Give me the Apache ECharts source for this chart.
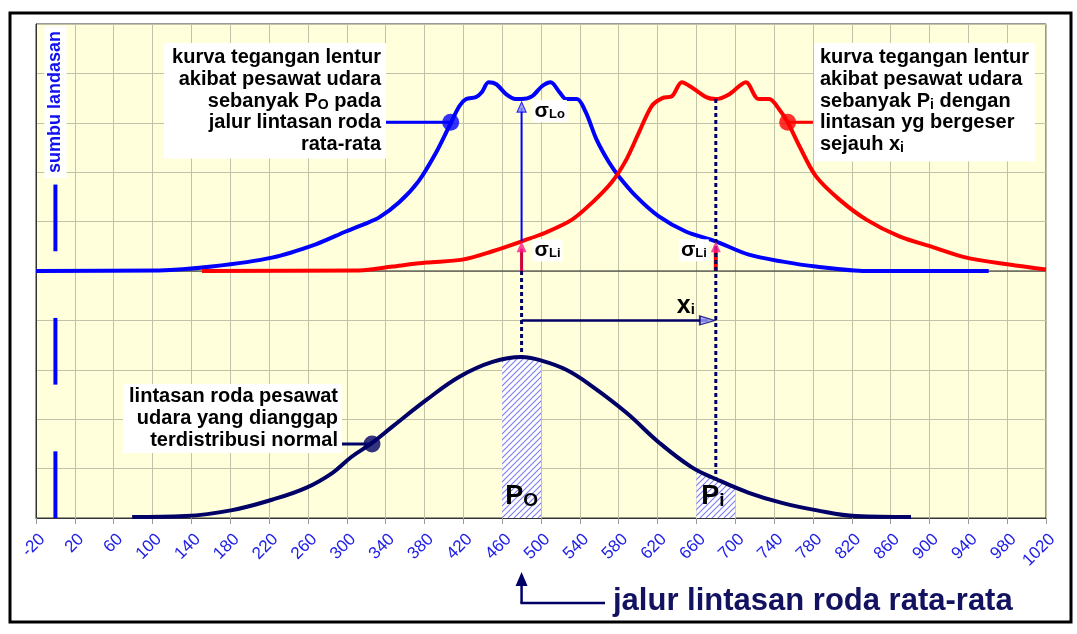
<!DOCTYPE html>
<html><head><meta charset="utf-8">
<script src="https://cdn.jsdelivr.net/npm/echarts@6/dist/echarts.min.js"></script>
<style>html,body{margin:0;padding:0;background:#fff}#c{width:1077px;height:634px}</style>
</head><body><div id="c"></div><script>
// ---------- data ----------
const xTickStart = -20, xTickEnd = 1020, xTickStep = 40;
const yMin = 0, yMax = 10, yStep = 1;
const stressBaseline = 5;
const meanPath = 480;      // jalur lintasan roda rata-rata
const shiftedPath = 680;   // mean + x_i
const runwayX = 0;         // sumbu landasan

const bluePo = [[-20,5.0],[107,5.01],[161,5.09],[223,5.27],[268,5.54],[299,5.80],[318,5.95],[333,6.08],[354,6.39],[374,6.82],[392,7.40],[405,7.91],[416,8.34],[423,8.48],[433,8.52],[439,8.62],[446,8.82],[454,8.78],[464,8.58],[474,8.48],[480,8.48],[491,8.54],[501,8.74],[510,8.82],[519,8.62],[526,8.48],[537,8.48],[546,8.22],[557,7.67],[570,7.20],[580,6.92],[598,6.51],[621,6.11],[649,5.80],[680,5.6],[714,5.33],[749,5.19],[783,5.09],[835,5.0],[961,5.0]];
const redPi = [[151,5.0],[313,5.01],[347,5.09],[382,5.17],[419,5.23],[450,5.40],[480,5.60],[505,5.78],[532,6.04],[553,6.39],[573,6.80],[588,7.26],[601,7.81],[614,8.34],[625,8.50],[635,8.54],[645,8.82],[655,8.72],[670,8.52],[680,8.48],[694,8.58],[711,8.82],[724,8.48],[735,8.48],[745,8.28],[754,8.01],[766,7.53],[783,6.92],[807,6.45],[835,6.04],[869,5.70],[904,5.48],[938,5.27],[982,5.13],[1020,5.03]];
const normalDist = [[79,0.02],[134,0.04],[182,0.16],[223,0.37],[258,0.61],[285,0.91],[305,1.24],[326,1.52],[347,1.85],[382,2.39],[416,2.86],[450,3.16],[480,3.26],[498,3.20],[526,3.00],[553,2.66],[588,2.13],[622,1.52],[655,1.03],[680,0.79],[714,0.51],[749,0.30],[783,0.16],[824,0.04],[881,0.02]];
const hatchPo = [[460,3.21],[470,3.24],[480,3.26],[490,3.24],[500,3.19]];
const hatchPi = [[660,0.98],[670,0.88],[680,0.79],[690,0.71],[700,0.64]];
const runwayDashes = [[0,1.35],[2.7,4.05],[5.4,6.75]];
const dotBlue = [407,8.01], dotRed = [754,8.01], dotNavy = [326,1.5];
const connBlue = [[340,8.01],[407,8.01]], connRed = [[754,8.01],[780,8.01]], connNavy = [[295,1.5],[326,1.5]];
const dottedLeft = [[480,5.0],[480,3.26]];
const dottedRight = [[680,8.48],[680,0.79]];
const sigmaLoLine = [[480,5.6],[480,8.3]];
const sigmaLiLeftLine = [[480,5.0],[480,5.45]];
const sigmaLiRightLine = [[680,5.0],[680,5.45]];
const xiLine = [[480,4.0],[672,4.0]];
const tipSigmaLo = [480,8.42], tipSigmaLiL = [480,5.6], tipSigmaLiR = [680,5.6], tipXi = [679,4.0];

// ---------- style ----------
const FONT = '"Liberation Sans", Arial, sans-serif';
const BLUE = '#0000FF', RED = '#FF0000', NAVY = '#000066';

function hatchPattern(){
  const c = document.createElement('canvas'); c.width = 6; c.height = 6;
  const g = c.getContext('2d');
  g.fillStyle = '#FFFFFF'; g.fillRect(0,0,6,6);
  g.strokeStyle = '#7C7CF2'; g.lineWidth = 1.1;
  g.beginPath(); g.moveTo(-1,7); g.lineTo(7,-1); g.moveTo(-1,1); g.lineTo(1,-1); g.moveTo(5,7); g.lineTo(7,5); g.stroke();
  return c;
}
const hatch = hatchPattern();

function seg(data, color, width, type, z){
  return {type:'line', data, xAxisIndex:0, yAxisIndex:0, symbol:'none', silent:true, z:z||4,
    lineStyle:{color, width, type:type||'solid', cap:'butt'}};
}
function curve(data, color, smooth, z){
  return {type:'line', data, xAxisIndex:0, yAxisIndex:0, symbol:'none', silent:true, z:z||3, smooth,
    lineStyle:{color, width:4, join:'round'}};
}
function hatchArea(data){
  return {type:'line', data, xAxisIndex:0, yAxisIndex:0, symbol:'none', silent:true, z:1,
    lineStyle:{width:0}, areaStyle:{color:{image:hatch, repeat:'repeat'}, opacity:1}};
}

const chart = echarts.init(document.getElementById('c'), null, {renderer:'canvas', width:1077, height:634});

const option = {
  animation:false,
  backgroundColor:'#ffffff',
  grid:{left:36, top:24, right:31, bottom:116, show:true, backgroundColor:'#FFFFDC', borderColor:'#333', borderWidth:1},
  xAxis:[
    {type:'value', min:xTickStart, max:xTickEnd, show:false},
    {type:'value', min:0, max:xTickEnd - xTickStart, interval:xTickStep, position:'bottom',
      axisLine:{onZero:false, lineStyle:{color:'#333', width:1}},
      axisTick:{show:true, length:6, lineStyle:{color:'#999'}},
      splitLine:{show:true, lineStyle:{color:'#C2C2A8', width:1}},
      axisLabel:{rotate:45, margin:25, interval:0, padding:[0,-9,0,0], color:'#2020E8', fontFamily:FONT, fontSize:17,
        formatter:v => String(v + xTickStart)}}
  ],
  yAxis:{type:'value', min:yMin, max:yMax, interval:yStep,
    axisLine:{show:true, onZero:false, lineStyle:{color:'#333'}}, axisTick:{show:false}, axisLabel:{show:false},
    splitLine:{show:true, lineStyle:{color:'#C2C2A8', width:1}}},
  series:[
    hatchArea(hatchPo),
    hatchArea(hatchPi),
    seg([[xTickStart,stressBaseline],[xTickEnd,stressBaseline]], '#222', 1, 'solid', 2),
    ...runwayDashes.map(d => seg([[runwayX,d[0]],[runwayX,d[1]]], BLUE, 4, 'solid', 3)),
    curve(normalDist, NAVY, 0.4, 3),
    curve(bluePo, BLUE, 0.3, 3),
    curve(redPi, RED, 0.3, 3),
    seg(connBlue, BLUE, 3, 'solid', 4),
    seg(connRed, RED, 3, 'solid', 4),
    seg(connNavy, NAVY, 3, 'solid', 4),
    seg(sigmaLoLine, BLUE, 2, 'solid', 5),
    seg(sigmaLiLeftLine, '#D0003A', 3, 'solid', 5),
    seg(sigmaLiRightLine, RED, 4, 'solid', 5),
    seg(xiLine, NAVY, 2.5, 'solid', 5),
    seg(dottedLeft, NAVY, 3, [4,3], 6),
    seg(dottedRight, NAVY, 3, [4,3], 6),
    {type:'scatter', xAxisIndex:0, yAxisIndex:0, silent:true, z:7, symbol:'circle', symbolSize:17,
      data:[{value:dotBlue, itemStyle:{color:BLUE}}, {value:dotRed, itemStyle:{color:RED}}, {value:dotNavy, itemStyle:{color:NAVY}}]},
    {type:'scatter', xAxisIndex:0, yAxisIndex:0, silent:true, z:8, symbol:'triangle',
      data:[
        {value:tipSigmaLo, symbolSize:[9,10], symbolOffset:[0,5], itemStyle:{color:'#8C8CFF', borderColor:BLUE, borderWidth:1.2}},
        {value:tipSigmaLiL, symbolSize:[10,11], symbolOffset:[0,5.5], itemStyle:{color:'#FF1A8C'}},
        {value:tipSigmaLiR, symbolSize:[10,11], symbolOffset:[0,5.5], itemStyle:{color:'#FF1A8C'}},
        {value:tipXi, symbolSize:[9,15], symbolRotate:-90, symbolOffset:[-7.5,0], itemStyle:{color:'#9A9AFF', borderColor:NAVY, borderWidth:1.5}}
      ]}
  ]
};
chart.setOption(option);

const px = p => chart.convertToPixel({xAxisIndex:0, yAxisIndex:0}, p);

function rich(color, align, size){
  return {
    t:{fontFamily:FONT, fontWeight:'bold', fontSize:size||20, color, lineHeight:21.7, align},
    s:{fontFamily:FONT, fontWeight:'bold', fontSize:14, color, lineHeight:13, verticalAlign:'bottom', align}
  };
}
const blueText = '{t|kurva tegangan lentur}\n{t|akibat pesawat udara}\n{t|sebanyak P}{s|O}{t| pada}\n{t|jalur lintasan roda}\n{t|rata-rata}';
const redText = '{t|kurva tegangan lentur}\n{t|akibat pesawat udara}\n{t|sebanyak P}{s|i}{t| dengan}\n{t|lintasan yg bergeser}\n{t|sejauh x}{s|i}';
const navyText = '{t|lintasan roda pesawat}\n{t|udara yang dianggap}\n{t|terdistribusi normal}';

const pLo = px(tipSigmaLo), pLiL = px(tipSigmaLiL), pLiR = px(tipSigmaLiR), pXi = px(tipXi);
const pMean0 = px([meanPath, 0]), pShift0 = px([shiftedPath, 0]), pRun = px([runwayX, 0]);

function sigma(label, color){
  return {
    text:'{g|σ}{s|' + label + '}',
    rich:{g:{fontFamily:FONT, fontWeight:'bold', fontSize:21, color, lineHeight:20},
          s:{fontFamily:FONT, fontWeight:'bold', fontSize:13, color, lineHeight:12, verticalAlign:'bottom'}},
    backgroundColor:'#fff', padding:[1,2,1,2]
  };
}

chart.setOption({graphic:[
  {type:'rect', z:0, silent:true, shape:{x:10, y:13, width:1061, height:609}, style:{fill:null, stroke:'#000', lineWidth:3}},
  {type:'text', z:100, x:386, y:43, style:{text:blueText, rich:rich('#1111EE','right'), align:'right', verticalAlign:'top', backgroundColor:'#fff', padding:[4,5,3,8]}},
  {type:'text', z:100, x:814, y:43, style:{text:redText, rich:rich('#EE1111','left'), align:'left', verticalAlign:'top', backgroundColor:'#fff', padding:[4,6,6,6]}},
  {type:'text', z:100, x:342, y:384, style:{text:navyText, rich:rich('#121260','right'), align:'right', verticalAlign:'top', backgroundColor:'#fff', padding:[2,4,2,6]}},
  {type:'text', z:100, x:pLo[0] + 11, y:pLo[1] + 9, style:Object.assign(sigma('Lo', '#1111EE'), {align:'left', verticalAlign:'middle'})},
  {type:'text', z:100, x:pLiL[0] + 11, y:pLiL[1] + 9, style:Object.assign(sigma('Li', '#EE1111'), {align:'left', verticalAlign:'middle'})},
  {type:'text', z:100, x:pLiR[0] - 7, y:pLiR[1] + 9, style:Object.assign(sigma('Li', '#EE1111'), {align:'right', verticalAlign:'middle'})},
  {type:'text', z:100, x:pXi[0] - 20, y:pXi[1] - 14, style:{text:'{g|x}{s|i}', align:'right', verticalAlign:'middle',
    rich:{g:{fontFamily:FONT, fontWeight:'bold', fontSize:25, color:NAVY, lineHeight:22}, s:{fontFamily:FONT, fontWeight:'bold', fontSize:15, color:NAVY, lineHeight:13, verticalAlign:'bottom'}}}},
  {type:'text', z:100, x:pMean0[0], y:pMean0[1] - 21, style:{text:'{g|P}{s|O}', align:'center', verticalAlign:'middle',
    rich:{g:{fontFamily:FONT, fontWeight:'bold', fontSize:27, color:'#1111EE', lineHeight:26}, s:{fontFamily:FONT, fontWeight:'bold', fontSize:19, color:'#1111EE', lineHeight:18, verticalAlign:'bottom'}}}},
  {type:'text', z:100, x:pShift0[0] - 3, y:pShift0[1] - 21, style:{text:'{g|P}{s|i}', align:'center', verticalAlign:'middle',
    rich:{g:{fontFamily:FONT, fontWeight:'bold', fontSize:27, color:'#EE1111', lineHeight:26}, s:{fontFamily:FONT, fontWeight:'bold', fontSize:19, color:'#EE1111', lineHeight:18, verticalAlign:'bottom'}}}},
  {type:'text', z:100, x:pRun[0], y:102, rotation:Math.PI/2, style:{text:'sumbu landasan', fontFamily:FONT, fontWeight:'bold', fontSize:18, fill:'#1111EE', align:'center', verticalAlign:'middle', backgroundColor:'#fff', padding:[2,5,2,5]}},
  {type:'line', z:100, shape:{x1:pMean0[0], y1:603, x2:pMean0[0], y2:584}, style:{stroke:NAVY, lineWidth:2.5}},
  {type:'polygon', z:100, shape:{points:[[pMean0[0]-6,586],[pMean0[0]+6,586],[pMean0[0],572]]}, style:{fill:NAVY}},
  {type:'line', z:100, shape:{x1:pMean0[0]-1.2, y1:603, x2:605, y2:603}, style:{stroke:NAVY, lineWidth:2.5}},
  {type:'text', z:100, x:613, y:601, style:{text:'jalur lintasan roda rata-rata', fontFamily:FONT, fontWeight:'bold', fontSize:31, fill:'#121260', align:'left', verticalAlign:'middle'}}
]});
</script></body></html>
